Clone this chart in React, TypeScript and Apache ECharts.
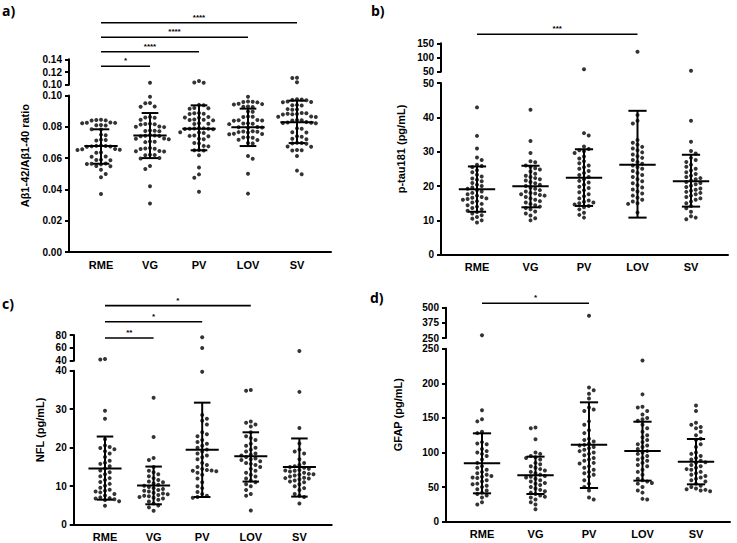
import React, { useEffect, useRef } from 'react';
import * as echarts from 'echarts';

const categories = ['RME', 'VG', 'PV', 'LOV', 'SV'];

// ---- a) Aβ1-42/Aβ1-40 ratio ----
const abLowerTicks = [0, 0.02, 0.04, 0.06, 0.08, 0.1];
const abUpperTicks = [0.1, 0.12, 0.14];
const abRME = [0.0845, 0.0843, 0.0841, 0.084, 0.0828, 0.0826, 0.0825, 0.0823, 0.0812, 0.081, 0.0808, 0.0785, 0.0783, 0.075, 0.0746, 0.0718, 0.0715, 0.0712, 0.068, 0.0678, 0.0677, 0.0675, 0.0674, 0.0672, 0.0658, 0.0656, 0.0654, 0.0652, 0.0636, 0.0634, 0.061, 0.0608, 0.059, 0.0588, 0.0586, 0.0566, 0.0564, 0.0562, 0.056, 0.055, 0.0548, 0.0525, 0.0498, 0.0477, 0.037];
const abVG = [0.103, 0.0992, 0.0952, 0.095, 0.093, 0.0928, 0.0862, 0.086, 0.0858, 0.0845, 0.082, 0.0818, 0.0816, 0.0814, 0.0802, 0.08, 0.0798, 0.0777, 0.0775, 0.0773, 0.0771, 0.0747, 0.0745, 0.0743, 0.0741, 0.0739, 0.0725, 0.0723, 0.0721, 0.0706, 0.0704, 0.0702, 0.0664, 0.0662, 0.066, 0.0658, 0.0646, 0.0644, 0.0642, 0.0622, 0.062, 0.0618, 0.06, 0.0598, 0.055, 0.053, 0.042, 0.031];
const abPV = [0.1058, 0.1035, 0.1032, 0.094, 0.0938, 0.092, 0.0918, 0.0916, 0.0888, 0.0886, 0.0884, 0.0882, 0.0862, 0.086, 0.0858, 0.0847, 0.0845, 0.0843, 0.0841, 0.0822, 0.082, 0.0818, 0.0792, 0.079, 0.0789, 0.0788, 0.0787, 0.0786, 0.0784, 0.0765, 0.0763, 0.0761, 0.0744, 0.0742, 0.074, 0.0723, 0.072, 0.0697, 0.0694, 0.0678, 0.0675, 0.0652, 0.065, 0.0648, 0.0618, 0.054, 0.0496, 0.0475, 0.0385];
const abLOV = [0.0992, 0.0962, 0.096, 0.0958, 0.0956, 0.0947, 0.0945, 0.0943, 0.093, 0.0928, 0.0926, 0.0898, 0.0896, 0.0866, 0.0864, 0.0862, 0.0844, 0.0842, 0.084, 0.0838, 0.0823, 0.0821, 0.0819, 0.0817, 0.0799, 0.0797, 0.0795, 0.0793, 0.0772, 0.077, 0.0768, 0.0766, 0.0764, 0.0756, 0.0754, 0.0752, 0.0734, 0.0732, 0.073, 0.0717, 0.0715, 0.0696, 0.0694, 0.0613, 0.0596, 0.05, 0.0373];
const abSV = [0.1108, 0.1106, 0.1037, 0.0976, 0.0974, 0.0972, 0.097, 0.0961, 0.0959, 0.0957, 0.094, 0.0938, 0.0936, 0.0913, 0.0911, 0.0909, 0.0888, 0.0886, 0.0884, 0.0882, 0.088, 0.0878, 0.0866, 0.0864, 0.0862, 0.0844, 0.0842, 0.084, 0.083, 0.0828, 0.0826, 0.0824, 0.0822, 0.079, 0.0788, 0.0765, 0.0763, 0.0739, 0.0737, 0.0723, 0.0721, 0.0698, 0.0696, 0.0694, 0.0692, 0.0674, 0.0672, 0.0652, 0.065, 0.0648, 0.0613, 0.052, 0.0497];
const abMean = [0.0677, 0.0745, 0.0788, 0.0797, 0.0829];
const abSdLow = [0.0564, 0.06, 0.065, 0.0677, 0.0696];
const abSdHigh = [0.0784, 0.0888, 0.0937, 0.0916, 0.0967];
const abSig = [
  { from: 0, to: 1, text: '*' },
  { from: 0, to: 2, text: '****' },
  { from: 0, to: 3, text: '****' },
  { from: 0, to: 4, text: '****' },
];

// ---- b) p-tau181 ----
const ptLowerTicks = [0, 10, 20, 30, 40, 50];
const ptUpperTicks = [50, 100, 150];
const ptRME = [42.9, 34.6, 30.9, 28.3, 27.6, 26.2, 25.8, 25.5, 24.6, 24.0, 23.3, 22.8, 22.2, 21.8, 21.4, 20.9, 20.4, 20.0, 19.6, 19.2, 18.8, 18.4, 18.0, 17.6, 17.2, 16.8, 16.6, 16.4, 16.2, 16.0, 15.6, 15.2, 14.8, 14.4, 14.0, 13.6, 13.2, 12.8, 12.4, 12.0, 11.5, 11.0, 10.5, 10.0, 9.4];
const ptVG = [42.2, 33.1, 29.6, 27.2, 26.9, 26.0, 25.6, 25.2, 24.8, 24.2, 23.6, 23.0, 22.6, 22.3, 22.0, 21.6, 21.2, 20.8, 20.4, 20.0, 19.6, 19.2, 18.8, 18.4, 18.0, 17.8, 17.6, 17.4, 17.2, 16.8, 16.4, 16.0, 15.6, 15.2, 14.8, 14.4, 14.0, 13.6, 13.2, 12.6, 12.0, 11.4, 10.6, 10.0];
const ptPV = [58.5, 35.4, 34.7, 31.5, 30.8, 30.4, 30.1, 29.6, 28.6, 28.0, 27.2, 26.6, 26.0, 25.5, 25.0, 24.4, 23.8, 23.2, 22.6, 22.0, 21.5, 21.0, 20.4, 19.8, 19.4, 18.8, 18.2, 17.6, 17.0, 16.4, 15.8, 15.4, 15.2, 15.0, 14.6, 14.2, 13.8, 13.2, 12.2, 11.6, 10.8];
const ptLOV = [120, 40.7, 39.0, 38.2, 33.4, 32.6, 32.0, 31.4, 30.9, 30.4, 29.8, 29.2, 28.7, 28.2, 27.6, 27.0, 26.5, 26.0, 25.5, 25.0, 24.4, 23.8, 23.2, 22.6, 22.0, 21.4, 20.8, 20.2, 19.6, 19.0, 18.4, 17.8, 17.2, 16.6, 16.0, 15.5, 15.0, 14.8, 12.3];
const ptSV = [53.5, 39.0, 32.9, 30.2, 29.5, 28.2, 27.6, 27.0, 26.2, 25.6, 25.0, 24.5, 24.0, 23.5, 23.0, 22.6, 22.3, 22.0, 21.6, 21.2, 20.9, 20.5, 20.1, 19.7, 19.3, 18.9, 18.6, 18.3, 18.0, 17.6, 17.2, 16.8, 16.4, 16.0, 15.5, 15.0, 14.2, 13.5, 12.5, 11.2, 10.8, 10.3];
const ptMean = [19.06, 19.9, 22.4, 26.2, 21.4];
const ptSdLow = [12.5, 13.8, 14.2, 10.8, 14.0];
const ptSdHigh = [25.7, 25.9, 30.7, 41.9, 29.1];
const ptSig = [{ from: 0, to: 3, text: '***' }];

// ---- c) NFL ----
const nflLowerTicks = [0, 10, 20, 30, 40];
const nflUpperTicks = [40, 60, 80];
const nflRME = [42.6, 42.0, 29.6, 27.5, 22.2, 20.6, 20.2, 19.9, 19.6, 19.1, 18.5, 17.6, 16.6, 16.1, 15.8, 15.2, 14.6, 14.1, 13.6, 13.1, 12.6, 12.1, 11.6, 11.1, 10.6, 10.1, 9.6, 9.1, 8.8, 8.6, 8.4, 8.0, 7.6, 7.1, 6.9, 6.8, 6.6, 6.4, 6.1, 4.9];
const nflVG = [33.0, 22.8, 17.3, 16.8, 15.0, 14.0, 13.6, 13.1, 12.6, 12.1, 11.6, 11.2, 11.0, 10.7, 10.4, 10.1, 9.8, 9.5, 9.3, 9.0, 8.8, 8.6, 8.3, 8.1, 7.9, 7.7, 7.5, 7.4, 7.2, 7.0, 6.8, 6.5, 6.0, 5.5, 5.0, 4.5, 3.6];
const nflPV = [76.4, 59.8, 39.7, 28.5, 27.5, 27.0, 26.0, 24.0, 23.5, 23.0, 22.0, 21.5, 21.0, 20.5, 20.0, 19.5, 19.0, 18.5, 18.0, 17.5, 17.0, 16.0, 15.5, 15.0, 14.5, 14.2, 14.1, 14.0, 13.9, 13.5, 13.0, 12.0, 11.0, 10.0, 9.5, 8.5, 8.0, 7.5, 7.2, 7.0];
const nflLOV = [35.0, 34.8, 26.8, 26.5, 26.0, 25.5, 24.0, 23.0, 22.5, 22.0, 21.0, 20.5, 20.0, 19.5, 19.0, 18.5, 18.2, 18.0, 17.6, 17.2, 17.0, 16.8, 16.5, 16.0, 15.8, 15.5, 15.0, 14.5, 14.0, 13.5, 13.0, 12.5, 12.0, 11.5, 11.0, 10.5, 10.0, 9.0, 8.0, 7.5, 3.7];
const nflSV = [55.0, 34.5, 25.1, 21.1, 19.5, 19.0, 18.5, 17.0, 16.0, 15.5, 15.2, 15.0, 14.8, 14.5, 14.2, 14.1, 14.0, 13.8, 13.5, 13.2, 13.1, 13.0, 12.8, 12.5, 12.2, 12.1, 12.0, 11.8, 11.5, 11.2, 11.0, 10.5, 10.0, 9.5, 9.0, 8.0, 7.5, 7.2, 5.5];
const nflMean = [14.6, 10.2, 19.5, 17.8, 15.0];
const nflSdLow = [6.5, 5.3, 7.2, 11.2, 7.3];
const nflSdHigh = [22.9, 15.1, 31.7, 24.0, 22.4];
const nflSig = [
  { from: 0, to: 1, text: '**' },
  { from: 0, to: 2, text: '*' },
  { from: 0, to: 3, text: '*' },
];

// ---- d) GFAP ----
const gfapLowerTicks = [0, 50, 100, 150, 200, 250];
const gfapUpperTicks = [250, 375, 500];
const gfapRME = [272, 161, 148, 145, 130, 128, 115, 113, 112, 105, 102, 100, 98, 95, 90, 85, 80, 78, 75, 72, 70, 68, 66, 65, 64, 63, 60, 58, 55, 54, 52, 50, 47, 45, 42, 40, 38, 35, 28, 25];
const gfapVG = [136, 135, 119, 100, 98, 95, 93, 92, 90, 85, 83, 80, 78, 76, 74, 72, 70, 68, 66, 65, 64, 62, 60, 58, 56, 55, 53, 50, 48, 46, 44, 42, 40, 38, 36, 35, 32, 28, 25, 18];
const gfapPV = [434, 194, 190, 185, 178, 165, 162, 160, 145, 140, 132, 128, 120, 118, 116, 113, 111, 110, 108, 106, 104, 102, 100, 98, 96, 92, 90, 88, 85, 84, 80, 78, 75, 72, 70, 68, 65, 60, 55, 50, 45, 35, 32];
const gfapLOV = [233, 184, 166, 165, 160, 155, 150, 148, 146, 140, 135, 130, 125, 122, 118, 115, 112, 110, 108, 105, 102, 100, 98, 95, 92, 90, 88, 85, 82, 80, 75, 72, 68, 62, 60, 58, 56, 55, 50, 45, 42, 33, 32];
const gfapSV = [168, 160, 143, 140, 137, 135, 130, 125, 120, 118, 112, 108, 100, 98, 95, 92, 90, 88, 86, 85, 82, 80, 78, 76, 75, 72, 70, 68, 66, 64, 62, 60, 58, 55, 52, 50, 48, 47, 46, 45, 44];
const gfapMean = [84.4, 67, 111.3, 102.2, 86.7];
const gfapSdLow = [41, 40, 48.7, 59.3, 54];
const gfapSdHigh = [127.7, 94, 172.5, 144.5, 119.5];
const gfapSig = [{ from: 0, to: 2, text: '*' }];

const FONT = '"Liberation Sans", Arial, sans-serif';

const panels = [
  {
    tag: 'a)', tagX: 2, tagY: 3, yName: 'Aβ1-42/Aβ1-40 ratio', yNameX: 25, decimals: 2,
    left: 69, right: 331, firstCenter: 101, spacing: 49,
    lowTop: 95.5, lowBottom: 252, lowTicks: abLowerTicks,
    upTop: 59.3, upBottom: 84.7, upTicks: abUpperTicks,
    groups: [abRME, abVG, abPV, abLOV, abSV], mean: abMean, sdLow: abSdLow, sdHigh: abSdHigh,
    sig: abSig, sigBase: 66.3, sigGap: 14.5,
  },
  {
    tag: 'b)', tagX: 371, tagY: 3, yName: 'p-tau181 (pg/mL)', yNameX: 401, decimals: 0,
    left: 441, right: 728, firstCenter: 477, spacing: 53.5,
    lowTop: 83, lowBottom: 254.7, lowTicks: ptLowerTicks,
    upTop: 43.3, upBottom: 71.7, upTicks: ptUpperTicks,
    groups: [ptRME, ptVG, ptPV, ptLOV, ptSV], mean: ptMean, sdLow: ptSdLow, sdHigh: ptSdHigh,
    sig: ptSig, sigBase: 34.3, sigGap: 8,
  },
  {
    tag: 'c)', tagX: 2, tagY: 296, yName: 'NFL (pg/mL)', yNameX: 40, decimals: 0,
    left: 73.7, right: 331.7, firstCenter: 105, spacing: 48.6,
    lowTop: 370.7, lowBottom: 524.7, lowTicks: nflLowerTicks,
    upTop: 335, upBottom: 360.7, upTicks: nflUpperTicks,
    groups: [nflRME, nflVG, nflPV, nflLOV, nflSV], mean: nflMean, sdLow: nflSdLow, sdHigh: nflSdHigh,
    sig: nflSig, sigBase: 338, sigGap: 16.2,
  },
  {
    tag: 'd)', tagX: 370, tagY: 290, yName: 'GFAP (pg/mL)', yNameX: 398, decimals: 0,
    left: 446, right: 730, firstCenter: 482, spacing: 53.5,
    lowTop: 348.7, lowBottom: 521.7, lowTicks: gfapLowerTicks,
    upTop: 307.7, upBottom: 338, upTicks: gfapUpperTicks,
    groups: [gfapRME, gfapVG, gfapPV, gfapLOV, gfapSV], mean: gfapMean, sdLow: gfapSdLow, sdHigh: gfapSdHigh,
    sig: gfapSig, sigBase: 303.3, sigGap: 8,
  },
];

const DOT = 4.7; // px spacing between swarm dots

function swarmOffsets(values: number[], toPx: (v: number) => number): number[] {
  const items = values.map((v, i) => ({ i, y: toPx(v) })).sort((a, b) => a.y - b.y);
  const placed: { x: number; y: number }[] = [];
  const out = new Array(values.length).fill(0);
  items.forEach((it, n) => {
    const sign = n % 2 === 0 ? 1 : -1;
    for (let k = 0; k < 40; k++) {
      const step = Math.ceil(k / 2);
      const x = k === 0 ? 0 : (k % 2 === 1 ? sign : -sign) * step * DOT;
      let ok = true;
      for (const p of placed) {
        const dx = p.x - x, dy = p.y - it.y;
        if (dx * dx + dy * dy < DOT * DOT * 0.9) { ok = false; break; }
      }
      if (ok) { placed.push({ x, y: it.y }); out[it.i] = x; break; }
    }
  });
  return out;
}

function buildOption() {
  const grids: any[] = [];
  const xAxes: any[] = [];
  const yAxes: any[] = [];
  const series: any[] = [];
  const graphic: any[] = [];

  const catStyle = { color: '#000', fontWeight: 'bold', fontSize: 11, fontFamily: FONT };
  const tickStyle = { color: '#000', fontWeight: 'bold', fontSize: 10, fontFamily: FONT, lineHeight: 10 };

  panels.forEach((p, k) => {
    const width = p.right - p.left;
    const xMin = -(p.firstCenter - p.left) / p.spacing;
    const xMax = (p.right - p.firstCenter) / p.spacing;
    const lowMin = p.lowTicks[0], lowMax = p.lowTicks[p.lowTicks.length - 1];
    const upMin = p.upTicks[0], upMax = p.upTicks[p.upTicks.length - 1];
    const nSig = p.sig.length;
    const gLow = 3 * k, gUp = 3 * k + 1, gSig = 3 * k + 2;
    const fmt = (v: number) => v.toFixed(p.decimals);

    grids.push({ left: p.left, top: p.lowTop, width, height: p.lowBottom - p.lowTop, outerBoundsMode: 'none' });
    grids.push({ left: p.left, top: p.upTop, width, height: p.upBottom - p.upTop, outerBoundsMode: 'none' });
    const sigTop = p.sigBase - (nSig - 0.5) * p.sigGap;
    grids.push({ left: p.left, top: sigTop, width, height: nSig * p.sigGap, outerBoundsMode: 'none' });

    xAxes.push({
      type: 'value', gridIndex: gLow, min: xMin, max: xMax,
      axisLine: { show: true, onZero: false, lineStyle: { color: '#000', width: 2 } },
      axisTick: { show: false }, splitLine: { show: false },
      axisLabel: { ...catStyle, margin: 7, customValues: [0, 1, 2, 3, 4], formatter: (v: number) => categories[Math.round(v)] },
    });
    xAxes.push({ type: 'value', gridIndex: gUp, min: xMin, max: xMax, show: false });
    xAxes.push({ type: 'value', gridIndex: gSig, min: xMin, max: xMax, show: false });

    const yCommon = {
      type: 'value',
      axisLine: { show: true, onZero: false, lineStyle: { color: '#000', width: 2 } },
      splitLine: { show: false },
    };
    yAxes.push({
      ...yCommon, gridIndex: gLow, min: lowMin, max: lowMax,
      axisTick: { show: true, length: 4, lineStyle: { color: '#000', width: 2 }, customValues: p.lowTicks },
      axisLabel: { ...tickStyle, margin: 7, customValues: p.lowTicks, formatter: fmt },
    });
    yAxes.push({
      ...yCommon, gridIndex: gUp, min: upMin, max: upMax,
      axisTick: { show: true, length: 4, lineStyle: { color: '#000', width: 2 }, customValues: p.upTicks },
      axisLabel: { ...tickStyle, margin: 7, customValues: p.upTicks, formatter: fmt },
    });
    yAxes.push({ type: 'value', gridIndex: gSig, min: 0.5, max: nSig + 0.5, show: false });

    const toPx = (v: number) =>
      v <= lowMax
        ? p.lowBottom - ((v - lowMin) / (lowMax - lowMin)) * (p.lowBottom - p.lowTop)
        : p.upBottom - ((v - upMin) / (upMax - upMin)) * (p.upBottom - p.upTop);

    const lowData: number[][] = [];
    const upData: number[][] = [];
    p.groups.forEach((vals, gi) => {
      const offs = swarmOffsets(vals, toPx);
      vals.forEach((v, j) => {
        const pt = [gi + offs[j] / p.spacing, v];
        if (v <= lowMax) lowData.push(pt); else upData.push(pt);
      });
    });

    const dotStyle = { type: 'scatter', symbol: 'circle', symbolSize: 4, itemStyle: { color: '#000' }, silent: true };
    series.push({ ...dotStyle, xAxisIndex: gLow, yAxisIndex: gLow, data: lowData });
    series.push({ ...dotStyle, xAxisIndex: gUp, yAxisIndex: gUp, data: upData });

    series.push({
      type: 'custom', xAxisIndex: gLow, yAxisIndex: gLow, silent: true, clip: false,
      data: p.mean.map((m, i) => [i, m, p.sdLow[i], p.sdHigh[i]]),
      renderItem: (params: any, api: any) => {
        const i = api.value(0), m = api.value(1), lo = api.value(2), hi = api.value(3);
        const a = api.coord([i - 0.34, m]), b = api.coord([i + 0.34, m]);
        const t = api.coord([i, hi]), bo = api.coord([i, lo]);
        const tl = api.coord([i - 0.17, hi]), tr = api.coord([i + 0.17, hi]);
        const bl = api.coord([i - 0.17, lo]), br = api.coord([i + 0.17, lo]);
        const st = { stroke: '#000', lineWidth: 2 };
        return {
          type: 'group',
          children: [
            { type: 'line', shape: { x1: a[0], y1: a[1], x2: b[0], y2: b[1] }, style: st },
            { type: 'line', shape: { x1: t[0], y1: t[1], x2: bo[0], y2: bo[1] }, style: st },
            { type: 'line', shape: { x1: tl[0], y1: tl[1], x2: tr[0], y2: tr[1] }, style: st },
            { type: 'line', shape: { x1: bl[0], y1: bl[1], x2: br[0], y2: br[1] }, style: st },
          ],
        };
      },
    });

    series.push({
      type: 'custom', xAxisIndex: gSig, yAxisIndex: gSig, silent: true, clip: false,
      data: p.sig.map((s, i) => [s.from, s.to, i + 1]),
      renderItem: (params: any, api: any) => {
        const s = p.sig[params.dataIndex];
        const lvl = api.value(2);
        const p1 = api.coord([api.value(0), lvl]);
        const p2 = api.coord([api.value(1), lvl]);
        return {
          type: 'group',
          children: [
            { type: 'line', shape: { x1: p1[0], y1: p1[1], x2: p2[0], y2: p2[1] }, style: { stroke: '#000', lineWidth: 1.6 } },
            {
              type: 'text', x: (p1[0] + p2[0]) / 2, y: p1[1] - 1.5,
              style: { text: s.text, fill: '#000', fontSize: 8, fontWeight: 'bold', fontFamily: FONT, align: 'center', verticalAlign: 'bottom' },
            },
          ],
        };
      },
    });

    graphic.push({
      type: 'text', left: p.tagX, top: p.tagY,
      style: { text: p.tag, fill: '#000', fontSize: 14, fontWeight: 'bold', fontFamily: '"Open Sans", sans-serif' },
    });
    graphic.push({
      type: 'text', x: p.yNameX, y: (p.upTop + p.lowBottom) / 2, rotation: Math.PI / 2,
      style: { text: p.yName, fill: '#000', fontSize: 11, fontWeight: 'bold', fontFamily: FONT, align: 'center', verticalAlign: 'middle' },
    });
  });

  return {
    animation: false,
    backgroundColor: '#fff',
    grid: grids,
    xAxis: xAxes,
    yAxis: yAxes,
    series,
    graphic,
  };
}

export default function App() {
  const ref = useRef<HTMLDivElement>(null);
  useEffect(() => {
    if (!ref.current) return;
    const chart = echarts.init(ref.current, undefined, { renderer: 'svg' });
    chart.setOption(buildOption() as any);
    return () => chart.dispose();
  }, []);
  return (
    <div
      ref={ref}
      style={{ position: 'fixed', left: 0, top: 0, width: 737, height: 543, background: '#fff' }}
    />
  );
}
